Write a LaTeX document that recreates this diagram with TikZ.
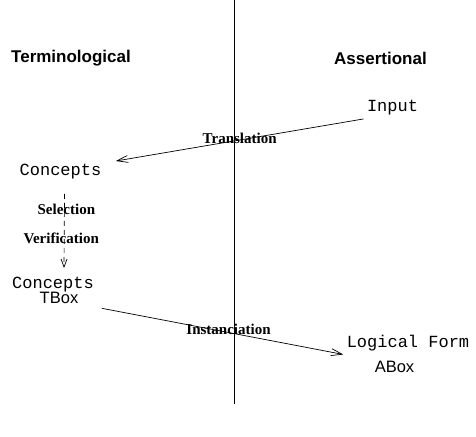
\documentclass[tikz,border=0pt]{standalone}
\usepackage{fontspec}
\newfontfamily\headfont{Liberation Sans}
\newfontfamily\labfont{Liberation Serif}
\newfontfamily\codefont{Liberation Mono}
\usetikzlibrary{arrows.meta}

\begin{document}
\begin{tikzpicture}[x=1pt,y=-1pt,
  head/.style={font=\headfont\bfseries\fontsize{17}{20}\selectfont},
  term/.style={font=\codefont\fontsize{17}{20}\selectfont},
  box/.style={font=\headfont\fontsize{16.5}{20}\selectfont},
  lab/.style={font=\labfont\bfseries\fontsize{15}{18}\selectfont},
  flow/.style={line width=0.7pt, -{Straight Barb[length=11pt,width=7pt]}}]
\useasboundingbox (0,0) rectangle (476,436);
\def\xmid{234}

% divider
\coordinate (top) at (\xmid,0);
\coordinate (bot) at (\xmid,404);
\draw[line width=0.7pt] (top) -- (bot);

\node[head] (terminological) at (71,58.5) {Terminological};
\node[head] (assertional) at (380.5,58.5) {Assertional};

\node[term] (input) at (392.5,108) {Input};
\node[term] (concepts) at (60.5,172) {Concepts};
\node[term] (concepts2) at (53,285) {Concepts};
\node[box] (tbox) at (59,298) {TBox};
\node[term] (logical) at (408,343) {Logical Form};
\node[box] (abox) at (394.5,367) {ABox};

\draw[flow] (input.south west) -- ([xshift=11pt]concepts.north east)
  node[lab, midway, yshift=2pt] {Translation};
\draw[flow, dashed, dash pattern=on 5pt off 4pt,
  -{Straight Barb[length=8pt,width=6pt]}]
  ([xshift=4pt,yshift=-11pt]concepts.south) -- ([xshift=11pt,yshift=6pt]concepts2.north)
  node[lab, pos=0.21, xshift=2pt] {Selection}
  node[lab, pos=0.6, xshift=-3pt] {Verification};
\draw[flow] ([shift={(20,1)}]tbox.south east) -- (logical.south west)
  node[lab, midway, xshift=6pt, yshift=2pt] {Instanciation};
\end{tikzpicture}
\end{document}
